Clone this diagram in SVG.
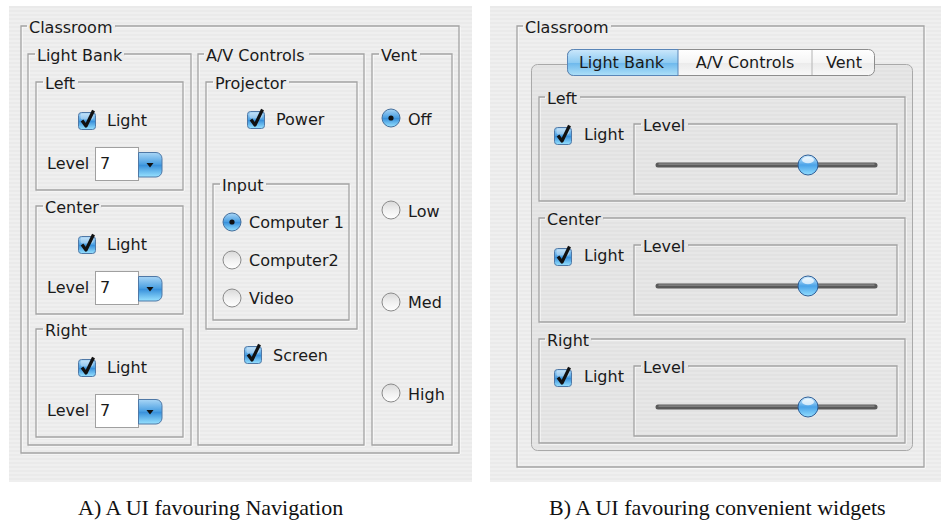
<svg xmlns="http://www.w3.org/2000/svg" width="941" height="522" viewBox="0 0 941 522">
  <defs>
    <style>
      .t { font-family: "DejaVu Sans", "Noto Sans", sans-serif; font-size: 16px; fill: #1a1a1a; }
      .cap { font-family: "Liberation Serif", "Times New Roman", serif; font-size: 22px; fill: #111; }
      .ed { fill: none; stroke: #a3a3a3; stroke-width: 1.3; }
      .eh { fill: none; stroke: #ffffff; stroke-width: 1; }
    </style>
    <!-- Aqua pinstripe window background -->
    <pattern id="pinstripe" width="6" height="4" patternUnits="userSpaceOnUse">
      <rect width="6" height="4" fill="#efefef"/>
      <rect y="2" width="6" height="2" fill="#eaeaea"/>
    </pattern>
    <linearGradient id="gGel" x1="0" y1="0" x2="0" y2="1">
      <stop offset="0" stop-color="#a9d6f6"/>
      <stop offset="0.48" stop-color="#4a9fe2"/>
      <stop offset="0.52" stop-color="#3890db"/>
      <stop offset="1" stop-color="#98e2ff"/>
    </linearGradient>
    <linearGradient id="gWhite" x1="0" y1="0" x2="0" y2="1">
      <stop offset="0" stop-color="#d9d9d9"/>
      <stop offset="0.5" stop-color="#f0f0f0"/>
      <stop offset="1" stop-color="#ffffff"/>
    </linearGradient>
    <linearGradient id="gKnob" x1="0" y1="0" x2="0" y2="1">
      <stop offset="0" stop-color="#d5efff"/>
      <stop offset="0.5" stop-color="#4aa3e8"/>
      <stop offset="1" stop-color="#92deff"/>
    </linearGradient>
    <linearGradient id="gTabOn" x1="0" y1="0" x2="0" y2="1">
      <stop offset="0" stop-color="#cbe7fb"/>
      <stop offset="0.5" stop-color="#8ecbf2"/>
      <stop offset="0.52" stop-color="#6db8ec"/>
      <stop offset="1" stop-color="#aee0f8"/>
    </linearGradient>
    <linearGradient id="gTabOff" x1="0" y1="0" x2="0" y2="1">
      <stop offset="0" stop-color="#ffffff"/>
      <stop offset="0.5" stop-color="#f5f5f5"/>
      <stop offset="0.52" stop-color="#ebebeb"/>
      <stop offset="1" stop-color="#f8f8f8"/>
    </linearGradient>

    <!-- checked checkbox -->
    <g id="chk">
      <rect x="0.5" y="0.5" width="17" height="17" rx="3" fill="url(#gGel)" stroke="#4f78a6"/>
      <rect x="2.5" y="1.5" width="13" height="6" rx="2" fill="#fff" opacity="0.35"/>
      <path d="M4 8.5 L8 14 L15.5 -1.5" fill="none" stroke="#111" stroke-width="3.2" stroke-linejoin="round"/>
    </g>
    <!-- radio buttons -->
    <g id="rOn">
      <circle r="9" fill="url(#gGel)" stroke="#456f9c"/>
      <circle r="2.6" fill="#111"/>
    </g>
    <g id="rOff">
      <circle r="9" fill="url(#gWhite)" stroke="#8a8a8a"/>
    </g>
    <!-- editable combo box showing 7 -->
    <g id="combo">
      <rect x="0.5" y="0.5" width="43" height="33" fill="#fff" stroke="#a0a0a0"/>
      <path d="M43.5 5.5 H61 A6 6 0 0 1 67 11.5 V24 A6 6 0 0 1 61 30 H43.5 Z" fill="url(#gGel)" stroke="#4f78a6"/>
      <path d="M51.5 16 H58.5 L55 20.5 Z" fill="#111"/>
      <text class="t" x="5" y="22">7</text>
    </g>
    <!-- horizontal slider -->
    <g id="slider">
      <line x1="2" y1="0" x2="219" y2="0" stroke="#5a5a5a" stroke-width="5" stroke-linecap="round"/>
      <line x1="3" y1="-0.8" x2="218" y2="-0.8" stroke="#8c8c8c" stroke-width="1.3" stroke-linecap="round"/>
      <circle cx="152" cy="0" r="10" fill="url(#gKnob)" stroke="#2f5f98"/>
      <ellipse cx="152" cy="-5" rx="6" ry="3.3" fill="#fff" opacity="0.7"/>
    </g>
  </defs>

  <!-- A: navigation-oriented layout -->
  <g id="panel-a">
    <rect x="9" y="6" width="463" height="476" fill="url(#pinstripe)"/>
    <g id="a-classroom">
      <path class="eh" transform="translate(1 1)" d="M115 26 H459 V453 H21 V26 H27"/>
      <path class="ed" d="M115 26 H459 V453 H21 V26 H27"/>
      <text class="t" x="29" y="32.5">Classroom</text>

      <g id="a-lightbank">
        <path class="eh" transform="translate(1 1)" d="M124 54 H191 V445 H28 V54 H35"/>
        <path class="ed" d="M124 54 H191 V445 H28 V54 H35"/>
        <text class="t" x="37" y="60.5">Light Bank</text>

        <g id="a-left">
          <path class="eh" transform="translate(1 1)" d="M78 82 H183 V190 H36 V82 H43"/>
          <path class="ed" d="M78 82 H183 V190 H36 V82 H43"/>
          <text class="t" x="45" y="88.5">Left</text>
          <use href="#chk" x="78" y="112"/>
          <text class="t" x="107" y="126">Light</text>
          <text class="t" x="47" y="169">Level</text>
          <use href="#combo" x="95" y="147"/>
        </g>
        <g id="a-center" transform="translate(0 124)">
          <path class="eh" transform="translate(1 1)" d="M101 82 H183 V190 H36 V82 H43"/>
          <path class="ed" d="M101 82 H183 V190 H36 V82 H43"/>
          <text class="t" x="45" y="88.5">Center</text>
          <use href="#chk" x="78" y="112"/>
          <text class="t" x="107" y="126">Light</text>
          <text class="t" x="47" y="169">Level</text>
          <use href="#combo" x="95" y="147"/>
        </g>
        <g id="a-right" transform="translate(0 247)">
          <path class="eh" transform="translate(1 1)" d="M89 82 H183 V190 H36 V82 H43"/>
          <path class="ed" d="M89 82 H183 V190 H36 V82 H43"/>
          <text class="t" x="45" y="88.5">Right</text>
          <use href="#chk" x="78" y="112"/>
          <text class="t" x="107" y="126">Light</text>
          <text class="t" x="47" y="169">Level</text>
          <use href="#combo" x="95" y="147"/>
        </g>
      </g>

      <g id="a-av">
        <path class="eh" transform="translate(1 1)" d="M309 54 H364 V445 H198 V54 H204"/>
        <path class="ed" d="M309 54 H364 V445 H198 V54 H204"/>
        <text class="t" x="206" y="60.5">A/V Controls</text>

        <g id="a-projector">
          <path class="eh" transform="translate(1 1)" d="M289 82 H357 V329 H206 V82 H213"/>
          <path class="ed" d="M289 82 H357 V329 H206 V82 H213"/>
          <text class="t" x="215" y="88.5">Projector</text>
          <use href="#chk" x="247" y="111"/>
          <text class="t" x="276" y="125">Power</text>

          <g id="a-input">
            <path class="eh" transform="translate(1 1)" d="M266 184 H349 V320 H213 V184 H220"/>
            <path class="ed" d="M266 184 H349 V320 H213 V184 H220"/>
            <text class="t" x="222" y="190.5">Input</text>
            <use href="#rOn" x="232" y="222"/>
            <text class="t" x="249" y="228">Computer 1</text>
            <use href="#rOff" x="232" y="260"/>
            <text class="t" x="249" y="266">Computer2</text>
            <use href="#rOff" x="232" y="298"/>
            <text class="t" x="249" y="304">Video</text>
          </g>
        </g>
        <use href="#chk" x="244" y="346"/>
        <text class="t" x="273" y="361">Screen</text>
      </g>

      <g id="a-vent">
        <path class="eh" transform="translate(1 1)" d="M420 54 H452 V445 H372 V54 H379"/>
        <path class="ed" d="M420 54 H452 V445 H372 V54 H379"/>
        <text class="t" x="381" y="60.5">Vent</text>
        <use href="#rOn" x="391" y="118"/>
        <text class="t" x="408" y="125">Off</text>
        <use href="#rOff" x="391" y="210"/>
        <text class="t" x="408" y="217">Low</text>
        <use href="#rOff" x="391" y="302"/>
        <text class="t" x="408" y="308">Med</text>
        <use href="#rOff" x="391" y="393"/>
        <text class="t" x="408" y="400">High</text>
      </g>
    </g>
  </g>

  <!-- B: tabbed layout with sliders -->
  <g id="panel-b">
    <rect x="490" y="6" width="451" height="476" fill="url(#pinstripe)"/>
    <g id="b-classroom">
      <path class="eh" transform="translate(1 1)" d="M611 26 H924 V467 H517 V26 H523"/>
      <path class="ed" d="M611 26 H924 V467 H517 V26 H523"/>
      <text class="t" x="525" y="32.5">Classroom</text>

      <g id="b-tabpane">
        <rect x="531.5" y="64.5" width="381" height="386" rx="6" fill="#000" fill-opacity="0.03" stroke="#a9a9a9"/>
        <g id="b-tabs">
          <rect x="567.5" y="49.5" width="307" height="26" rx="6" fill="url(#gTabOff)" stroke="#8d8d8d"/>
          <path d="M573.5 49.5 H678 V75.5 H573.5 A6 6 0 0 1 567.5 69.5 V55.5 A6 6 0 0 1 573.5 49.5 Z" fill="url(#gTabOn)" stroke="#5a86b8"/>
          <line x1="812" y1="50" x2="812" y2="75" stroke="#b4b4b4"/>
          <text class="t" x="621.5" y="68" text-anchor="middle">Light Bank</text>
          <text class="t" x="745" y="68" text-anchor="middle">A/V Controls</text>
          <text class="t" x="844" y="68" text-anchor="middle">Vent</text>
        </g>

        <g id="b-left">
          <path class="eh" transform="translate(1 1)" d="M580 97 H905 V201 H539 V97 H545"/>
          <path class="ed" d="M580 97 H905 V201 H539 V97 H545"/>
          <text class="t" x="547" y="103.5">Left</text>
          <use href="#chk" x="554" y="127"/>
          <text class="t" x="584" y="140">Light</text>
          <g id="b-left-level">
            <path class="eh" transform="translate(1 1)" d="M688 124 H897 V194 H634 V124 H641"/>
            <path class="ed" d="M688 124 H897 V194 H634 V124 H641"/>
            <text class="t" x="643" y="130.5">Level</text>
            <use href="#slider" x="656" y="165"/>
          </g>
        </g>
        <g id="b-center" transform="translate(0 121)">
          <path class="eh" transform="translate(1 1)" d="M603 97 H905 V201 H539 V97 H545"/>
          <path class="ed" d="M603 97 H905 V201 H539 V97 H545"/>
          <text class="t" x="547" y="103.5">Center</text>
          <use href="#chk" x="554" y="127"/>
          <text class="t" x="584" y="140">Light</text>
          <g id="b-center-level">
            <path class="eh" transform="translate(1 1)" d="M688 124 H897 V194 H634 V124 H641"/>
            <path class="ed" d="M688 124 H897 V194 H634 V124 H641"/>
            <text class="t" x="643" y="130.5">Level</text>
            <use href="#slider" x="656" y="165"/>
          </g>
        </g>
        <g id="b-right" transform="translate(0 242)">
          <path class="eh" transform="translate(1 1)" d="M591 97 H905 V201 H539 V97 H545"/>
          <path class="ed" d="M591 97 H905 V201 H539 V97 H545"/>
          <text class="t" x="547" y="103.5">Right</text>
          <use href="#chk" x="554" y="127"/>
          <text class="t" x="584" y="140">Light</text>
          <g id="b-right-level">
            <path class="eh" transform="translate(1 1)" d="M688 124 H897 V194 H634 V124 H641"/>
            <path class="ed" d="M688 124 H897 V194 H634 V124 H641"/>
            <text class="t" x="643" y="130.5">Level</text>
            <use href="#slider" x="656" y="165"/>
          </g>
        </g>
      </g>
    </g>
  </g>

  <!-- captions -->
  <text class="cap" x="78" y="515">A) A UI favouring Navigation</text>
  <text class="cap" x="549" y="515">B) A UI favouring convenient widgets</text>
</svg>
